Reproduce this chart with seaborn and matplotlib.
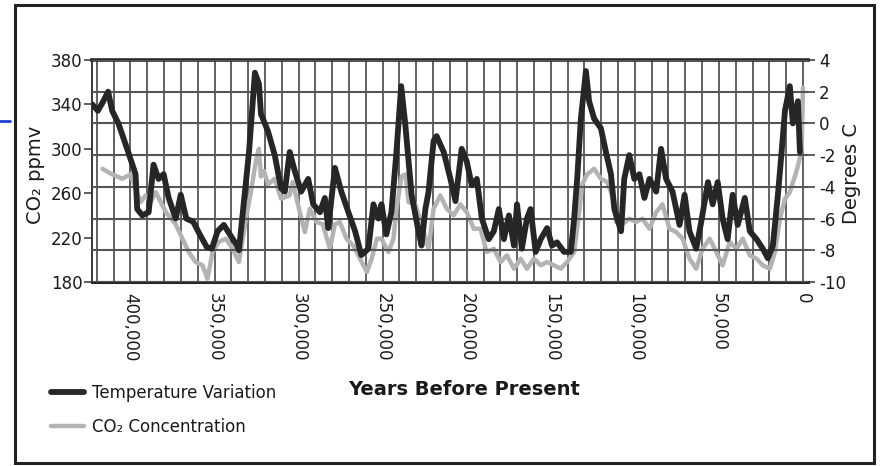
import matplotlib
matplotlib.use("Agg")
import matplotlib.pyplot as plt
import seaborn as sns
import pandas as pd
from matplotlib.lines import Line2D
from matplotlib.patches import Rectangle
from matplotlib.ticker import MultipleLocator, FixedLocator

# ---------------- data ----------------
temp_years = [422700, 419400, 416700, 413300, 410900, 407200, 402000, 397000, 396000, 393000,
              389200, 386300, 383300, 380300, 377300, 373100, 370100, 366800, 362700, 358800,
              354600, 351600, 348200, 344500, 340900, 336700, 335500, 332500, 329500, 327300,
              326000, 323600, 322400, 318200, 314200, 310400, 308200, 305300, 302300, 298500,
              294300, 291300, 287300, 284400, 282400, 278400, 274600, 270400, 266400, 262700,
              258500, 255500, 252500, 250700, 247800, 244800, 241800, 239000, 236600, 232800,
              228700, 226900, 224600, 222700, 219700, 217900, 213700, 209700, 206700, 203000,
              200000, 197000, 194000, 191000, 186900, 183900, 180900, 177900, 174900, 171900,
              170100, 167200, 164200, 162000, 159000, 156000, 152200, 149300, 146300, 142100,
              138100, 136100, 134300, 132100, 129100, 127200, 124200, 120200, 117200, 114200,
              112200, 108200, 106300, 103300, 100300, 97300, 94300, 91300, 87300, 84400,
              81400, 77600, 73400, 70400, 67500, 63500, 60500, 56500, 53700, 50700,
              47800, 44800, 41800, 38800, 34600, 31600, 27600, 23900, 20900, 17900,
              14900, 12700, 10700, 7800, 6000, 3000, 1800]
temp_degc = [1.2, 0.8, 1.3, 2.0, 0.8, 0.0, -1.6, -3.2, -5.4, -5.8,
             -5.6, -2.6, -3.5, -3.2, -4.7, -6.0, -4.5, -6.0, -6.2, -7.0,
             -7.8, -7.9, -6.8, -6.4, -7.0, -7.7, -8.0, -4.9, -1.8, 1.4,
             3.2, 2.5, 0.6, -0.5, -2.0, -4.1, -4.3, -1.8, -3.0, -4.3,
             -3.5, -5.1, -5.6, -4.7, -6.6, -2.8, -4.3, -5.6, -6.8, -8.3,
             -7.9, -5.1, -6.0, -5.1, -7.0, -5.6, -1.8, 2.35, 0.0, -4.5,
             -6.8, -7.7, -5.4, -4.3, -1.1, -0.8, -1.8, -3.5, -4.9, -1.6,
             -2.4, -3.9, -3.5, -6.0, -7.3, -6.8, -5.4, -7.3, -5.8, -7.7,
             -5.1, -7.9, -6.0, -5.4, -8.1, -7.3, -6.6, -7.7, -7.5, -8.1,
             -8.1, -6.0, -3.5, 0.3, 3.3, 1.4, 0.3, -0.3, -1.8, -3.2,
             -5.4, -6.8, -3.5, -2.0, -3.5, -3.2, -4.7, -3.5, -4.3, -1.6,
             -3.5, -4.3, -6.4, -4.5, -6.8, -7.9, -6.2, -3.7, -5.1, -3.7,
             -6.0, -7.3, -4.5, -6.4, -4.7, -6.8, -7.3, -7.9, -8.5, -7.7,
             -4.5, -1.8, 0.8, 2.35, 0.0, 1.4, -1.8]

co2_years = [416700, 410900, 404900, 400000, 397000, 394000, 391000, 388000, 385000, 379000,
             373100, 369100, 365400, 361300, 357200, 354200, 351200, 347500, 343300, 339300,
             335500, 333300, 331300, 328400, 325400, 323600, 322400, 320600, 318200, 314200,
             310400, 305400, 303500, 299300, 296300, 293300, 289300, 285600, 281400, 278400,
             275500, 271500, 267600, 263500, 259400, 256500, 253500, 250700, 246600, 243600,
             241800, 238800, 236400, 234600, 230600, 226900, 222700, 219700, 215700, 211900,
             207800, 203800, 200000, 195800, 191800, 188100, 183900, 179900, 176100, 171900,
             167900, 164200, 160000, 156000, 152200, 148100, 144100, 140300, 136100, 133100,
             131300, 128400, 124200, 120200, 116400, 112200, 111200, 107500, 103300, 99300,
             95500, 91300, 87300, 83600, 79400, 75400, 71600, 67500, 63500, 59700,
             55500, 51500, 47800, 43600, 39600, 35800, 31600, 27600, 23900, 19700,
             16700, 13700, 10700, 7800, 3800, 800, 0]
co2_ppmv = [282, 277, 273, 277, 264, 252, 258, 252, 261, 243,
            232, 219, 207, 198, 195, 183, 207, 216, 219, 210,
            198, 219, 237, 261, 289, 300, 275, 280, 268, 273,
            255, 258, 270, 243, 225, 246, 234, 232, 210, 232,
            234, 219, 213, 201, 189, 201, 219, 219, 207, 219,
            246, 275, 277, 252, 250, 232, 210, 246, 258, 246,
            240, 250, 243, 228, 228, 207, 210, 198, 204, 192,
            201, 192, 201, 195, 198, 195, 192, 198, 207, 243,
            268, 277, 282, 273, 270, 252, 234, 232, 237, 234,
            237, 228, 243, 250, 228, 225, 219, 201, 192, 210,
            219, 207, 195, 216, 210, 219, 204, 201, 195, 192,
            207, 237, 255, 261, 280, 298, 355]

x_ticks = [400000, 350000, 300000, 250000, 200000, 150000, 100000, 50000, 0]
x_tick_labels = ["400,000", "350,000", "300,000", "250,000", "200,000",
                 "150,000", "100,000", "50,000", "0"]
co2_ticks = [180, 220, 260, 300, 340, 380]
temp_ticks = [-10, -8, -6, -4, -2, 0, 2, 4]
temp_tick_labels = ["-10", "-8", "-6", "-4", "-2", "0", "2", "4"]

# ---------------- style ----------------
sns.set_style("white")
plt.rcParams["font.family"] = ["DejaVu Sans"]
plt.rcParams["axes.unicode_minus"] = False

W, H = 882, 466
fig = plt.figure(figsize=(W / 100, H / 100), dpi=100)

ax_l, ax_r, ax_t, ax_b = 92, 808, 60, 282
ax = fig.add_axes([ax_l / W, 1 - ax_b / H, (ax_r - ax_l) / W, (ax_b - ax_t) / H])
ax2 = ax.twinx()

grid_c = "#555555"
co2_c = "#b3b3b3"
temp_c = "#262626"

co2_df = pd.DataFrame({"years": co2_years, "ppmv": co2_ppmv})
temp_df = pd.DataFrame({"years": temp_years, "degc": temp_degc})

sns.lineplot(data=co2_df, x="years", y="ppmv", ax=ax, color=co2_c, lw=3.2,
             estimator=None, sort=False, label="CO\u2082 Concentration", zorder=3)
sns.lineplot(data=temp_df, x="years", y="degc", ax=ax2, color=temp_c, lw=4.2,
             estimator=None, sort=False, label="Temperature Variation", zorder=3)
for a in (ax, ax2):
    if a.get_legend() is not None:
        a.get_legend().remove()

# limits
ax.set_xlim(422900, -3000)
ax.set_ylim(180, 380)
ax2.set_ylim(-10, 4)

# ticks
ax.xaxis.set_major_locator(FixedLocator(x_ticks))
ax.set_xticklabels(x_tick_labels, rotation=-90, fontsize=12, color="#1a1a1a")
ax.xaxis.set_minor_locator(MultipleLocator(10000))
ax.tick_params(axis="x", which="both", length=0, pad=8)
ax.set_yticks(co2_ticks)
ax.tick_params(axis="y", which="major", length=6, width=1.1, pad=1, labelsize=12,
               direction="out", color="#333333", labelcolor="#1a1a1a", left=True)
ax2.set_yticks(temp_ticks)
ax2.set_yticklabels(temp_tick_labels)
ax2.tick_params(axis="y", length=5, width=1.1, pad=3, labelsize=12, direction="out",
                color="#333333", labelcolor="#1a1a1a", right=True)

# grid
ax.grid(False)
ax.xaxis.grid(True, which="both", color=grid_c, lw=1.3)
ax2.grid(False)
ax2.yaxis.grid(True, which="major", color=grid_c, lw=1.5)
ax.set_axisbelow(True)
ax2.set_axisbelow(True)

# spines
ax.spines["right"].set_visible(False)
ax.spines["top"].set_linewidth(2.6)
ax.spines["bottom"].set_linewidth(2.2)
ax.spines["left"].set_linewidth(1.3)
for s in ("top", "bottom", "left", "right"):
    ax.spines[s].set_color("#2a2a2a")
    ax2.spines[s].set_visible(False)

# labels
ax.set_xlabel("Years Before Present", fontsize=14, fontweight="bold", color="#1a1a1a")
ax.xaxis.set_label_coords((464 - ax_l) / (ax_r - ax_l), -(380 - ax_b) / (ax_b - ax_t))
ax.set_ylabel("CO\u2082 ppmv", fontsize=14, color="#1a1a1a")
ax.yaxis.set_label_coords(-(ax_l - 45) / (ax_r - ax_l), (ax_b - 175) / (ax_b - ax_t))
ax2.set_ylabel("Degrees C", fontsize=14, color="#1a1a1a", rotation=90)
ax2.yaxis.set_label_coords((842 - ax_l) / (ax_r - ax_l), (ax_b - 173) / (ax_b - ax_t))

# legend
h1, l1 = ax2.get_legend_handles_labels()
h0, l0 = ax.get_legend_handles_labels()
leg = fig.legend(h1 + h0, l1 + l0, loc="upper left", bbox_to_anchor=(51 / W, 1 - 384 / H),
                 frameon=False, fontsize=12, handlelength=2.0, handletextpad=0.45,
                 labelspacing=0.95, borderpad=0, borderaxespad=0)
for t in leg.get_texts():
    t.set_color("#1a1a1a")

# scanned page frame and stray mark
fig.add_artist(Rectangle((15 / W, 1 - 463 / H), (874 - 15) / W, (463 - 5) / H,
                         transform=fig.transFigure, fill=False, lw=2.2, ec="#222222"))
fig.add_artist(Line2D([0, 10 / W], [1 - 121 / H, 1 - 121 / H], transform=fig.transFigure,
                      color="#1f3fd0", lw=2))

fig.savefig("out.png", dpi=100, facecolor="white")
